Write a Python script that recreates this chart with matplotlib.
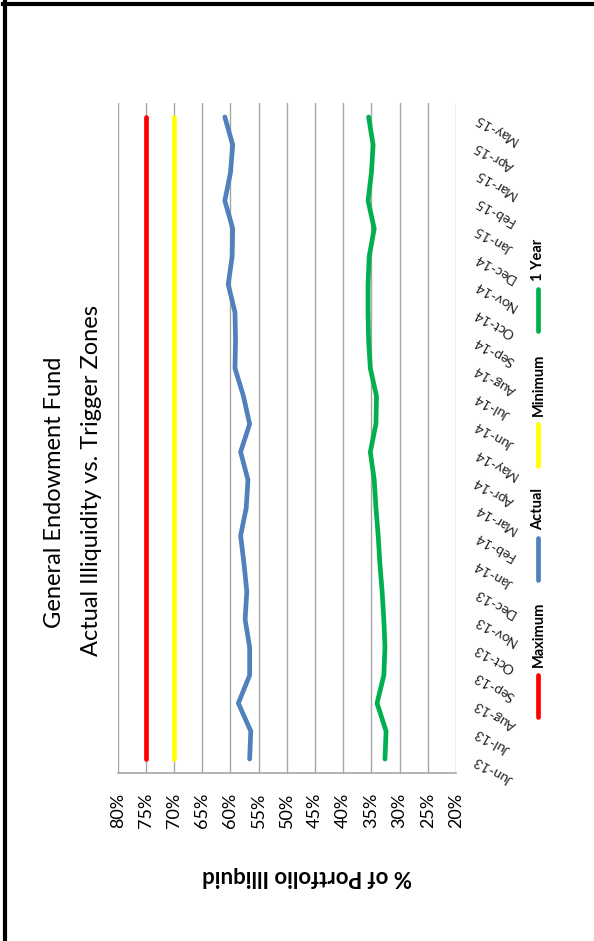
import matplotlib
matplotlib.use('Agg')
import matplotlib.pyplot as plt
from matplotlib.lines import Line2D

W, H = 594, 941

months = ['Jun-13', 'Jul-13', 'Aug-13', 'Sep-13', 'Oct-13', 'Nov-13', 'Dec-13',
          'Jan-14', 'Feb-14', 'Mar-14', 'Apr-14', 'May-14', 'Jun-14', 'Jul-14',
          'Aug-14', 'Sep-14', 'Oct-14', 'Nov-14', 'Dec-14', 'Jan-15', 'Feb-15',
          'Mar-15', 'Apr-15', 'May-15']

maximum = [75.0] * len(months)
minimum = [70.0] * len(months)
actual = [56.6, 56.4, 58.6, 56.6, 56.6, 57.4, 57.1, 57.6, 58.2, 57.2, 56.9, 58.2,
          56.6, 57.7, 59.2, 59.1, 59.2, 60.4, 59.7, 59.6, 61.0, 60.0, 59.6, 61.0]
one_year = [32.6, 32.4, 34.0, 32.8, 32.6, 32.8, 33.1, 33.5, 33.8, 34.2, 34.5, 35.2,
            34.2, 34.1, 35.2, 35.5, 35.6, 35.6, 35.4, 34.5, 35.6, 35.0, 34.7, 35.5]

pct_ticks = [80, 75, 70, 65, 60, 55, 50, 45, 40, 35, 30, 25, 20]
pct_labels = [f'{p}%' for p in pct_ticks]

series = [
    ('Maximum', maximum, '#FF0000'),
    ('Actual', actual, '#4F81BD'),
    ('Minimum', minimum, '#FFFF00'),
    ('1 Year', one_year, '#00B050'),
]

TITLE = ['General Endowment Fund', 'Actual Illiquidity vs. Trigger Zones']
YLABEL = '% of Portfolio Illiquid'

plt.rcParams['font.family'] = ['Lato', 'DejaVu Sans']


def fig_xy(x, y):
    """Pixel position (from top-left) to figure fraction."""
    return x / W, 1 - y / H


fig = plt.figure(figsize=(W / 100, H / 100), dpi=100)
ax = fig.add_axes([117.7 / W, 1 - 773 / H, (456 - 117.7) / W, (773 - 103) / H])

# the chart is laid on its side: values run along x, months run up the y axis
idx = list(range(len(months)))
for name, vals, color in series:
    ax.plot(vals, idx, color=color, lw=3.4, solid_capstyle='round', zorder=3)

ax.set_xlim(80, 20)
ax.set_ylim(-0.5, len(months) - 0.5)
ax.set_xticks(pct_ticks)
ax.set_xticklabels(pct_labels, rotation=90, va='top', ha='center', fontsize=13)
ax.grid(axis='x', color='#A6A6A6', lw=1.0, zorder=1)
ax.grid(axis='y', visible=False)

ax.yaxis.tick_right()
ax.set_yticks(idx)
ax.set_yticklabels(months, rotation=150, rotation_mode='anchor', ha='right',
                   va='center', fontsize=10, color='#222222')
ax.tick_params(axis='x', length=0, pad=14)
ax.tick_params(axis='y', length=0, pad=14)

for side in ['top', 'left', 'right']:
    ax.spines[side].set_visible(False)
ax.spines['bottom'].set_color('#A6A6A6')
ax.spines['bottom'].set_linewidth(1.2)

# title, rotated to read upward
fig.text(*fig_xy(55, 492), TITLE[0], rotation=90, ha='center', va='center',
         fontsize=17)
fig.text(*fig_xy(92, 480), TITLE[1], rotation=90, ha='center', va='center',
         fontsize=17)

# value axis title, upside down
fig.text(*fig_xy(307, 877), YLABEL, rotation=180, ha='center', va='center',
         fontsize=16, fontweight='bold')

# legend drawn by hand so its labels can be rotated
renderer = fig.canvas.get_renderer()
lx = 537.5
y0 = 717
for name, vals, color in series:
    x1, y1 = fig_xy(lx, y0)
    x2, y2 = fig_xy(lx, y0 - 42)
    fig.add_artist(Line2D([x1, x2], [y1, y2], color=color, lw=3.4,
                          solid_capstyle='round', transform=fig.transFigure))
    t = fig.text(*fig_xy(lx + 1, y0 - 50), name, rotation=90, ha='center',
                 va='bottom', fontsize=10.5, fontweight='bold')
    bb = t.get_window_extent(renderer=renderer)
    y0 = H - bb.y1 - 22

# frame edges along the top and left
fig.add_artist(Line2D([fig_xy(3.3, 0)[0], 1], [fig_xy(0, 4)[1]] * 2,
                      color='black', lw=3.0, transform=fig.transFigure))
fig.add_artist(Line2D([fig_xy(5.3, 0)[0]] * 2, [fig_xy(0, 2.3)[1], 0],
                      color='black', lw=3.0, transform=fig.transFigure))

fig.savefig('out.png', dpi=100)
